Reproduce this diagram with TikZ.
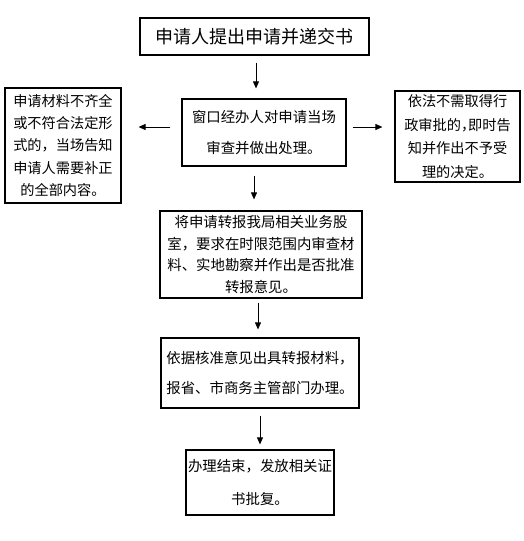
\documentclass[tikz,border=0pt]{standalone}
\usepackage{fontspec}
\newfontfamily\cjk{Noto Sans CJK SC}
\usetikzlibrary{arrows.meta}
\tikzset{
  box/.style={draw=black, line width=1.2pt, inner sep=0pt, align=center, font=\cjk},
  arr/.style={line width=0.9pt, -{Triangle[length=7pt,width=6pt]}},
}
\begin{document}
\begin{tikzpicture}[x=1pt,y=-1pt]
\useasboundingbox[fill=white] (0,0) rectangle (523,541);
\node[box, minimum width=229pt, minimum height=37pt, font=\cjk\fontsize{18}{22}\selectfont] (b1) at (254.5,36.5) {申请人提出申请并递交书};
\node[box, minimum width=164pt, minimum height=67pt, font=\cjk\fontsize{14.4}{31}\selectfont] (b2) at (264,132.5) {窗口经办人对申请当场\\审查并做出处理。};
\node[box, minimum width=116pt, minimum height=115pt, font=\cjk\fontsize{14.2}{22.2}\selectfont] (bl) at (63,145.5) {申请材料不齐全\\或不符合法定形\\式的，当场告知\\申请人需要补正\\的全部内容。};
\node[box, minimum width=125pt, minimum height=91pt, font=\cjk\fontsize{14.2}{23.5}\selectfont] (br) at (457.5,136.5) {依法不需取得行\\政审批的\makebox[0.5em][l]{，}即时告\\知并作出不予受\\理的决定。};
\node[box, minimum width=202pt, minimum height=87pt, font=\cjk\fontsize{14.4}{21.5}\selectfont] (b3) at (261,254.5) {将申请转报我局相关业务股\\室，要求在时限范围内审查材\\料、实地勘察并作出是否批准\\转报意见。};
\node[box, minimum width=198pt, minimum height=70pt, font=\cjk\fontsize{14.4}{30}\selectfont] (b4) at (260,373) {依据核准意见出具转报材料，\\报省、市商务主管部门办理。};
\node[box, minimum width=148pt, minimum height=65pt, font=\cjk\fontsize{14.4}{33}\selectfont] (b5) at (260,482.5) {办理结束，发放相关证\\书批复。};
\draw[arr, shorten <=7pt, shorten >=10pt] ([xshift=1.5]b1.south) -- ([xshift=1.5]b1.south |- b2.north);
\draw[arr, shorten <=11pt, shorten >=17pt] ([yshift=5.5]b2.west) -- ([yshift=5.5]b2.west -| bl.east);
\draw[arr, shorten <=6pt, shorten >=12pt] ([yshift=5.5]b2.east) -- ([yshift=5.5]b2.east -| br.west);
\draw[arr, shorten <=9pt, shorten >=11pt] ([xshift=-10]b2.south) -- ([xshift=-10]b2.south |- b3.north);
\draw[arr, shorten <=4pt, shorten >=8pt] ([xshift=-3]b3.south) -- ([xshift=-3]b3.south |- b4.north);
\draw[arr, shorten <=7pt, shorten >=5pt] (b4.south) -- (b4.south |- b5.north);
\end{tikzpicture}
\end{document}
